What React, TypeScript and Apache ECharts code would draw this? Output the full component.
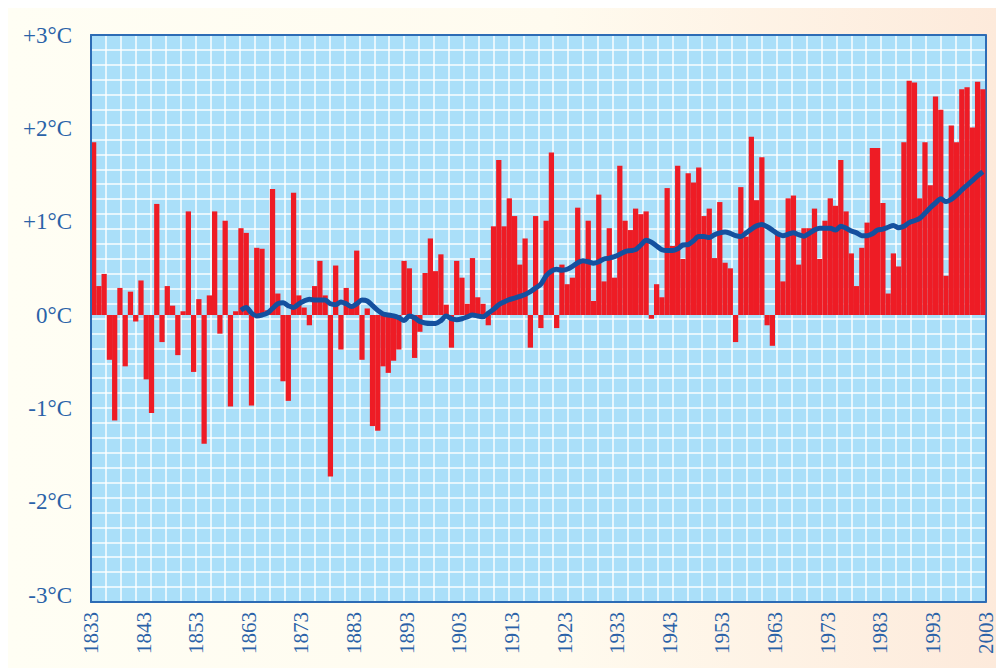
import React, { useEffect, useRef } from "react";
import * as echarts from "echarts";

// Categories: one bar per year
const firstYear = 1833;
const lastYear = 2002;
const years: string[] = [];
for (let y = firstYear; y <= lastYear; y++) years.push(String(y));

// Annual temperature anomaly (°C), 1833 … 2002
const anomalies: number[] = [
  1.85, 0.31, 0.44, -0.48, -1.13, 0.29, -0.55, 0.25, -0.07, 0.37,
  -0.69, -1.05, 1.19, -0.29, 0.31, 0.10, -0.43, 0.04, 1.11, -0.61,
  0.17, -1.38, 0.21, 1.11, -0.20, 1.01, -0.98, 0.04, 0.93, 0.88,
  -0.97, 0.72, 0.71, 0.05, 1.35, 0.23, -0.71, -0.92, 1.31, 0.21,
  0.08, -0.11, 0.31, 0.58, 0.21, -1.73, 0.53, -0.37, 0.29, 0.10,
  0.69, -0.48, 0.07, -1.19, -1.24, -0.55, -0.62, -0.49, -0.37, 0.58,
  0.50, -0.46, -0.18, 0.45, 0.82, 0.47, 0.65, 0.11, -0.35, 0.58,
  0.40, 0.12, 0.61, 0.19, 0.12, -0.11, 0.95, 1.66, 0.95, 1.25,
  1.06, 0.54, 0.82, -0.35, 1.06, -0.14, 1.01, 1.74, -0.14, 0.54,
  0.33, 0.40, 1.15, 0.58, 1.01, 0.15, 1.29, 0.36, 0.93, 0.40,
  1.60, 1.01, 0.91, 1.14, 1.08, 1.11, -0.04, 0.33, 0.19, 1.36,
  0.74, 1.60, 0.60, 1.52, 1.42, 1.58, 1.06, 1.14, 0.61, 1.21,
  0.56, 0.50, -0.29, 1.37, 0.84, 1.91, 1.23, 1.69, -0.11, -0.33,
  0.87, 0.36, 1.25, 1.28, 0.54, 0.93, 0.93, 1.14, 0.60, 1.01,
  1.25, 1.17, 1.66, 1.11, 0.66, 0.31, 0.72, 0.99, 1.79, 1.79,
  1.20, 0.23, 0.66, 0.52, 1.85, 2.51, 2.49, 1.25, 1.85, 1.39,
  2.34, 2.20, 0.42, 2.03, 1.85, 2.42, 2.44, 2.01, 2.50, 2.42,
];

// Smoothed trend (°C), from 1861 … 2002
const trendStartYear = 1861;
const trend: number[] = [
  0.05, 0.08, 0.02, -0.01, 0.0, 0.02, 0.07, 0.12, 0.13, 0.10,
  0.08, 0.12, 0.15, 0.17, 0.16, 0.16, 0.16, 0.12, 0.11, 0.14,
  0.12, 0.09, 0.12, 0.16, 0.15, 0.10, 0.05, 0.01, 0.0, -0.01,
  -0.03, -0.06, -0.01, -0.03, -0.07, -0.085, -0.09, -0.09, -0.06, -0.01,
  -0.04, -0.05, -0.04, -0.02, 0.0, -0.01, -0.02, 0.02, 0.06, 0.11,
  0.14, 0.165, 0.18, 0.20, 0.22, 0.25, 0.29, 0.33, 0.42, 0.47,
  0.49, 0.48, 0.49, 0.52, 0.56, 0.58, 0.57, 0.555, 0.57, 0.60,
  0.61, 0.625, 0.65, 0.68, 0.69, 0.70, 0.75, 0.80, 0.78, 0.74,
  0.70, 0.69, 0.69, 0.71, 0.75, 0.755, 0.795, 0.84, 0.84, 0.83,
  0.86, 0.88, 0.89, 0.875, 0.85, 0.84, 0.88, 0.92, 0.955, 0.97,
  0.945, 0.91, 0.87, 0.85, 0.865, 0.88, 0.86, 0.845, 0.875, 0.91,
  0.93, 0.93, 0.93, 0.91, 0.95, 0.93, 0.90, 0.88, 0.85, 0.85,
  0.87, 0.91, 0.92, 0.94, 0.96, 0.935, 0.95, 0.99, 1.01, 1.035,
  1.09, 1.15, 1.20, 1.245, 1.215, 1.24, 1.285, 1.34, 1.39, 1.44,
  1.49, 1.535,
];

// Tick labels
const xTickLabels: string[] = [
  "1833", "1843", "1853", "1863", "1873", "1883", "1893", "1903", "1913",
  "1923", "1933", "1943", "1953", "1963", "1973", "1983", "1993", "2003",
];
const yTickLabels: string[] = ["-3°C", "-2°C", "-1°C", "0°C", "+1°C", "+2°C", "+3°C"];

const BLUE_TEXT = "#2a62a8";
const BORDER = "#2d6cb5";
const FONT = "'Liberation Serif', 'DejaVu Serif', serif";

export default function App() {
  const ref = useRef<HTMLDivElement>(null);

  useEffect(() => {
    if (!ref.current) return;
    const chart = echarts.init(ref.current, undefined, { renderer: "svg" });

    const trendData: (number | null)[] = years.map((y) => {
      const k = Number(y) - trendStartYear;
      return k >= 0 && k < trend.length ? trend[k] : null;
    });

    chart.setOption({
      animation: false,
      backgroundColor: "transparent",
      grid: {
        left: 83,
        top: 27,
        right: 6,
        bottom: 66,
        show: true,
        backgroundColor: "#aadff9",
        borderWidth: 0,
      },
      xAxis: [
        {
          type: "category",
          data: years,
          boundaryGap: true,
          position: "bottom",
          show: false,
        },
        {
          type: "value",
          min: 0,
          max: (xTickLabels.length - 1) * 10,
          interval: 10,
          position: "bottom",
          z: 5,
          axisLine: { show: true, onZero: false, lineStyle: { color: BORDER, width: 2 } },
          axisTick: { show: false },
          splitLine: { show: false },
          axisLabel: {
            rotate: 90,
            margin: 10,
            color: BLUE_TEXT,
            fontFamily: FONT,
            fontSize: 21,
            formatter: (v: number) => xTickLabels[Math.round(v / 10)] ?? "",
          },
        },
        {
          type: "value",
          min: 0,
          max: 60,
          interval: 1,
          position: "top",
          z: 1,
          axisLine: { show: true, onZero: false, lineStyle: { color: BORDER, width: 2 } },
          axisTick: { show: false },
          axisLabel: { show: false },
          splitLine: { show: true, lineStyle: { color: "#ffffff", width: 1.5, opacity: 0.95 } },
        },
      ],
      yAxis: [
        {
          type: "value",
          min: -3.075,
          max: 3,
          splitNumber: 6,
          position: "left",
          z: 5,
          axisLine: { show: true, onZero: false, lineStyle: { color: BORDER, width: 2 } },
          axisTick: { show: false },
          splitLine: { show: false },
          axisLabel: {
            margin: 19,
            color: BLUE_TEXT,
            fontFamily: FONT,
            fontSize: 23,
            showMinLabel: true,
            formatter: (v: number) => {
              const r = Math.round(v);
              if (Math.abs(v - r) > 1e-6) return "";
              return yTickLabels[r + 3] ?? "";
            },
          },
        },
        {
          type: "value",
          min: 0,
          max: 38,
          interval: 1,
          position: "right",
          z: 1,
          axisLine: { show: true, onZero: false, lineStyle: { color: BORDER, width: 2 } },
          axisTick: { show: false },
          axisLabel: { show: false },
          splitLine: { show: true, lineStyle: { color: "#ffffff", width: 1.5, opacity: 0.95 } },
        },
      ],
      series: [
        {
          type: "bar",
          xAxisIndex: 0,
          yAxisIndex: 0,
          data: anomalies,
          barCategoryGap: "0%",
          itemStyle: { color: "#ee1c25" },
          z: 2,
        },
        {
          type: "line",
          xAxisIndex: 0,
          yAxisIndex: 0,
          data: trendData,
          symbol: "none",
          smooth: 0.3,
          connectNulls: false,
          lineStyle: { color: "#14509f", width: 5 },
          z: 3,
        },
      ],
    });

    return () => chart.dispose();
  }, []);

  return (
    <div
      ref={ref}
      style={{
        position: "absolute",
        left: 8,
        top: 8,
        width: 988,
        height: 660,
        background: "linear-gradient(to right, #fffef4 0%, #fffbef 55%, #fdeadb 100%)",
      }}
    />
  );
}
